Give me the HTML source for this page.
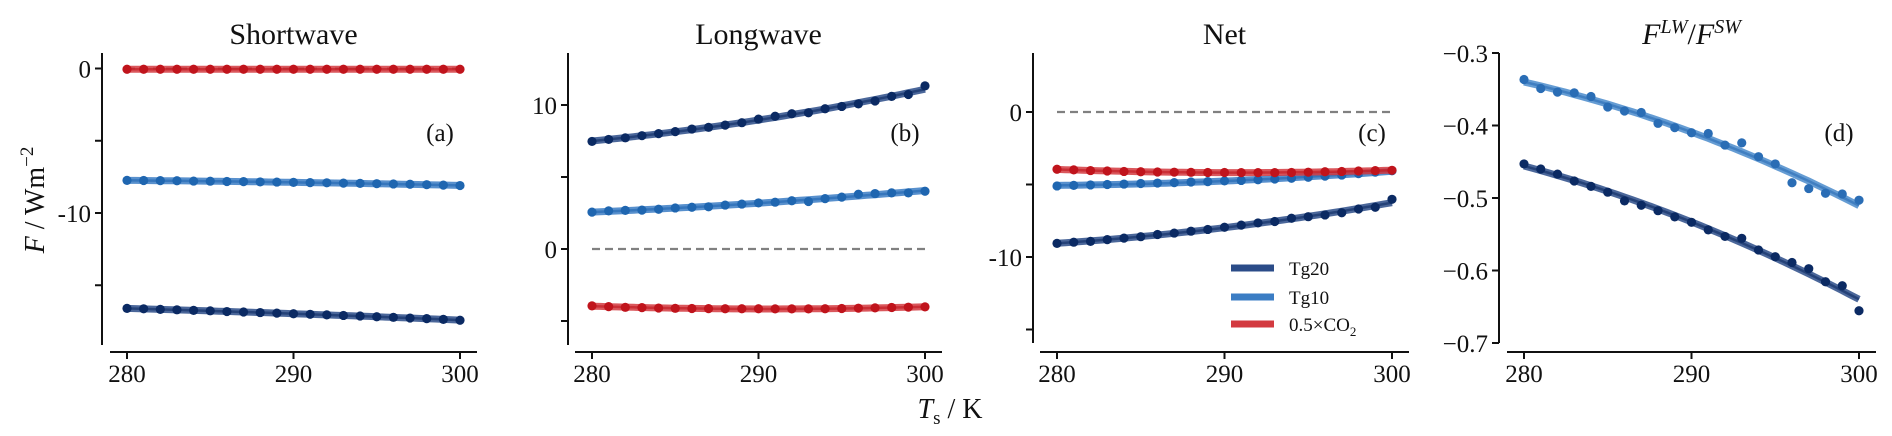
<!DOCTYPE html>
<html><head><meta charset="utf-8"><style>
html,body{margin:0;padding:0;background:#fff;}
svg{display:block;font-family:"Liberation Serif",serif;}
</style></head><body>
<svg id="chart" width="1892" height="436" viewBox="0 0 1892 436" xmlns="http://www.w3.org/2000/svg"></svg>
<script>
const temps=[280,281,282,283,284,285,286,287,288,289,290,291,292,293,294,295,296,297,298,299,300];
const swTg20=[-16.60,-16.63,-16.67,-16.70,-16.74,-16.77,-16.82,-16.85,-16.89,-16.93,-16.97,-17.01,-17.05,-17.09,-17.13,-17.18,-17.22,-17.27,-17.31,-17.36,-17.42];
const swTg10=[-7.74,-7.75,-7.76,-7.77,-7.79,-7.80,-7.82,-7.83,-7.85,-7.86,-7.88,-7.90,-7.91,-7.93,-7.95,-7.97,-7.99,-8.01,-8.04,-8.07,-8.10];
const swCO2=[-0.05,-0.05,-0.05,-0.05,-0.05,-0.05,-0.05,-0.05,-0.05,-0.05,-0.05,-0.05,-0.05,-0.05,-0.05,-0.05,-0.05,-0.05,-0.05,-0.05,-0.05];
const lwTg20=[7.47,7.61,7.72,7.87,8.01,8.15,8.33,8.45,8.60,8.77,9.02,9.22,9.39,9.46,9.74,9.90,10.08,10.28,10.60,10.73,11.33];
const lwTg10=[2.56,2.65,2.68,2.70,2.76,2.85,2.90,2.93,3.05,3.12,3.20,3.25,3.35,3.30,3.50,3.60,3.80,3.85,3.90,3.90,4.01];
const lwCO2=[-3.95,-4.00,-4.05,-4.07,-4.10,-4.12,-4.13,-4.14,-4.15,-4.15,-4.15,-4.16,-4.16,-4.16,-4.15,-4.13,-4.11,-4.09,-4.06,-4.04,-4.02];
const netTg20=[-9.06,-8.98,-8.92,-8.80,-8.70,-8.60,-8.45,-8.35,-8.22,-8.10,-7.95,-7.80,-7.65,-7.55,-7.33,-7.22,-7.10,-6.95,-6.69,-6.57,-6.02];
const netTg10=[-5.10,-5.06,-5.03,-5.00,-4.97,-4.93,-4.90,-4.87,-4.83,-4.80,-4.75,-4.72,-4.67,-4.62,-4.57,-4.50,-4.42,-4.35,-4.25,-4.15,-4.05];
const netCO2=[-3.95,-3.99,-4.04,-4.07,-4.10,-4.12,-4.14,-4.15,-4.16,-4.17,-4.17,-4.18,-4.18,-4.18,-4.17,-4.15,-4.12,-4.10,-4.07,-4.04,-4.02];
const ratioTg20=[-0.453,-0.460,-0.467,-0.4766,-0.484,-0.492,-0.504,-0.510,-0.5175,-0.526,-0.5335,-0.544,-0.553,-0.5556,-0.5717,-0.581,-0.589,-0.5975,-0.6155,-0.621,-0.6555];
const ratioTg10=[-0.3365,-0.349,-0.354,-0.355,-0.360,-0.3745,-0.380,-0.382,-0.397,-0.403,-0.410,-0.411,-0.427,-0.424,-0.443,-0.453,-0.479,-0.487,-0.4935,-0.4945,-0.503];
const xTicks=[280,290,300];
const seriesNames=["Tg20","Tg10","0.5×CO2"];

const NS="http://www.w3.org/2000/svg";
const svg=document.getElementById('chart');
function mk(tag,attrs,parent){const e=document.createElementNS(NS,tag);for(const k in attrs)e.setAttribute(k,attrs[k]);(parent||svg).appendChild(e);return e;}

const STY={
 tg20:{pt:"#0b2a63",ln:"#2b4c88"},
 tg10:{pt:"#1f66b0",ln:"#3b7dc4"},
 tg10d:{pt:"#2a6db5",ln:"#4a8bcb"},
 co2:{pt:"#c0141c",ln:"#d33a40"}
};

function quadFit(xs,ys){
 let n=xs.length,m=290;let S=[0,0,0,0,0],T=[0,0,0];
 for(let i=0;i<n;i++){const u=xs[i]-m;let p=1;for(let k=0;k<5;k++){S[k]+=p;if(k<3)T[k]+=p*ys[i];p*=u;}}
 const A=[[S[0],S[1],S[2],T[0]],[S[1],S[2],S[3],T[1]],[S[2],S[3],S[4],T[2]]];
 for(let i=0;i<3;i++){for(let j=i+1;j<3;j++){const f=A[j][i]/A[i][i];for(let k=i;k<4;k++)A[j][k]-=f*A[i][k];}}
 const c=[0,0,0];for(let i=2;i>=0;i--){let s=A[i][3];for(let k=i+1;k<3;k++)s-=A[i][k]*c[k];c[i]=s/A[i][i];}
 return x=>{const u=x-m;return c[0]+c[1]*u+c[2]*u*u;};
}

function panel(cfg){
 const g=mk('g',{},svg);
 
 
 const X=t=>cfg.x280+(t-280)*(cfg.x300-cfg.x280)/20;
 const Y=v=>cfg.yA+(v-cfg.vA)*(cfg.yB-cfg.yA)/(cfg.vB-cfg.vA);
 const title=mk('text',{x:(cfg.x280+cfg.x300)/2,y:44,'font-size':30,'text-anchor':'middle',fill:'#111'},g);
 
 
 if(cfg.titleHTML){title.innerHTML=cfg.titleHTML;}else title.textContent=cfg.title;
 const ya=mk('line',{x1:cfg.yAxisX,y1:53,x2:cfg.yAxisX,y2:cfg.yAxisBottom,stroke:'#111','stroke-width':2},g);
 
 
 cfg.yTicks.forEach(t=>{
  const tk=mk('line',{x1:cfg.yAxisX-7,y1:Y(t.v),x2:cfg.yAxisX,y2:Y(t.v),stroke:'#111','stroke-width':2},g);
  
  
  if(t.l!==undefined){const lb=mk('text',{x:cfg.yAxisX-11,y:Y(t.v)+9,'font-size':25,'text-anchor':'end',fill:'#111'},g);
   
   
   lb.textContent=t.l;}
 });
 const xa=mk('line',{x1:X(280)-17,y1:352,x2:X(300)+17,y2:352,stroke:'#111','stroke-width':2},g);
 
 
 xTicks.forEach(t=>{
  const tk=mk('line',{x1:X(t),y1:352,x2:X(t),y2:359,stroke:'#111','stroke-width':2},g);
  
  
  const lb=mk('text',{x:X(t),y:382,'font-size':25,'text-anchor':'middle',fill:'#111'},g);
  
  
  lb.textContent=t;
 });
 if(cfg.zero){const z=mk('line',{x1:X(280),y1:Y(0),x2:X(300),y2:Y(0),stroke:'#808080','stroke-width':2.2,'stroke-dasharray':'8 5'},g);
  
  }
 cfg.series.forEach(s=>{
  const f=quadFit(temps,s.vals);
  let d='';for(let t=280;t<=300.001;t+=0.5){d+=(d?'L':'M')+X(t).toFixed(1)+','+Y(f(t)).toFixed(1);}
  const ln=mk('path',{d:d,fill:'none',stroke:s.sty.ln,'stroke-width':7,'stroke-opacity':0.85,'stroke-linecap':'butt'},g);
  
  
  const ln2=mk('path',{d:d,fill:'none',stroke:s.sty.pt,'stroke-width':2.5,'stroke-opacity':0.6},g);
  
  
  temps.forEach((t,i)=>{
   const c=mk('circle',{cx:X(t),cy:Y(s.vals[i]),r:4.6,fill:s.sty.pt},g);
   
   
  });
 });
 const lab=mk('text',{x:cfg.labX,y:141,'font-size':25,'text-anchor':'middle',fill:'#111'},g);
 
 
 lab.textContent=cfg.letter;
 return {X,Y,g};
}

panel({name:'shortwave-panel',title:'Shortwave',x280:127,x300:460,yA:68.5,vA:0,yB:213,vB:-10,yAxisX:102,yAxisBottom:345,
 yTicks:[{v:0,l:'0'},{v:-5},{v:-10,l:'-10'},{v:-15}],zero:true,letter:'(a)',labX:440,
 series:[{name:'tg20',vals:swTg20,sty:STY.tg20},{name:'tg10',vals:swTg10,sty:STY.tg10},{name:'co2',vals:swCO2,sty:STY.co2}]});
panel({name:'longwave-panel',title:'Longwave',x280:592,x300:925,yA:249,vA:0,yB:105,vB:10,yAxisX:568,yAxisBottom:345,
 yTicks:[{v:10,l:'10'},{v:5},{v:0,l:'0'},{v:-5}],zero:true,letter:'(b)',labX:905,
 series:[{name:'tg20',vals:lwTg20,sty:STY.tg20},{name:'tg10',vals:lwTg10,sty:STY.tg10},{name:'co2',vals:lwCO2,sty:STY.co2}]});
panel({name:'net-panel',title:'Net',x280:1057,x300:1392,yA:112,vA:0,yB:257,vB:-10,yAxisX:1033,yAxisBottom:343,
 yTicks:[{v:0,l:'0'},{v:-5},{v:-10,l:'-10'},{v:-15}],zero:true,letter:'(c)',labX:1372,
 series:[{name:'tg20',vals:netTg20,sty:STY.tg20},{name:'tg10',vals:netTg10,sty:STY.tg10},{name:'co2',vals:netCO2,sty:STY.co2}]});
panel({name:'ratio-panel',titleHTML:'<tspan font-style="italic">F</tspan><tspan font-style="italic" font-size="20" dy="-11">LW</tspan><tspan dy="11">/</tspan><tspan font-style="italic">F</tspan><tspan font-style="italic" font-size="20" dy="-11">SW</tspan>',
 x280:1524,x300:1859,yA:53,vA:-0.3,yB:343,vB:-0.7,yAxisX:1499,yAxisBottom:343,
 yTicks:[{v:-0.3,l:'−0.3'},{v:-0.4,l:'−0.4'},{v:-0.5,l:'−0.5'},{v:-0.6,l:'−0.6'},{v:-0.7,l:'−0.7'}],zero:false,letter:'(d)',labX:1839,
 series:[{name:'tg20',vals:ratioTg20,sty:STY.tg20},{name:'tg10',vals:ratioTg10,sty:STY.tg10d}]});

const yl=mk('text',{x:0,y:0,'font-size':28,'text-anchor':'middle',fill:'#111',transform:'translate(44,200) rotate(-90)'});


yl.innerHTML='<tspan font-style="italic">F</tspan> / Wm<tspan font-size="19" dy="-11">−2</tspan>';
const xl=mk('text',{x:950,y:418,'font-size':28,'text-anchor':'middle',fill:'#111'});


xl.innerHTML='<tspan font-style="italic">T</tspan><tspan font-size="19" dy="6">s</tspan><tspan dy="-6"> / K</tspan>';
const lg=mk('g',{});


const legSty=[STY.tg20,STY.tg10,STY.co2];
const legY=[268,297,324];
seriesNames.forEach((nm,i)=>{
 const l=mk('line',{x1:1231,y1:legY[i],x2:1274,y2:legY[i],stroke:legSty[i].ln,'stroke-width':7},lg);
 
 
 const t=mk('text',{x:1289,y:legY[i]+7,'font-size':19,fill:'#111'},lg);
 
 
 if(i===2)t.innerHTML='0.5×CO<tspan font-size="13" dy="5">2</tspan>';else t.textContent=nm;
});
</script>
</body></html>
